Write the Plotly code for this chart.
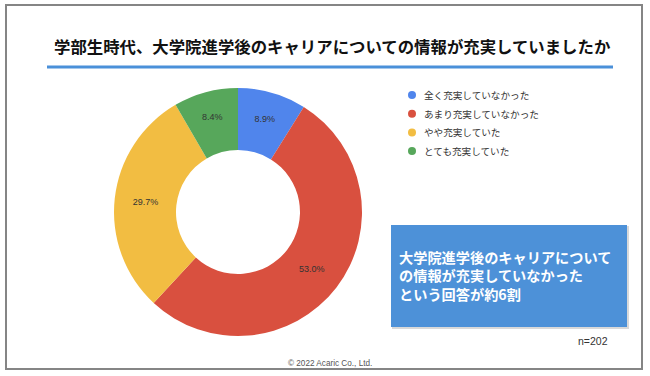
import plotly.graph_objects as go

categories = ["全く充実していなかった", "あまり充実していなかった", "やや充実していた", "とても充実していた"]
values = [8.9, 53.0, 29.7, 8.4]
colors = ["#5085ec", "#d9503f", "#f2bd42", "#57a75b"]

title_text = "学部生時代、大学院進学後のキャリアについての情報が充実していましたか"
box_text = "大学院進学後のキャリアについて<br>の情報が充実していなかった<br>という回答が約6割"
n_text = "n=202"
copyright_text = "© 2022 Acaric Co., Ltd."

W, H = 650, 376
FONT = "Noto Sans CJK JP"


def px(x):
    return x / W


def py(y):
    return 1 - y / H


fig = go.Figure()

fig.add_trace(go.Pie(
    labels=categories,
    values=values,
    marker=dict(colors=colors, line=dict(width=0)),
    hole=0.5,
    sort=False,
    direction="clockwise",
    rotation=0,
    texttemplate="%{value:.1f}%",
    textposition="inside",
    insidetextorientation="horizontal",
    textfont=dict(family="Liberation Sans, Arial", size=9, color="#333333"),
    showlegend=False,
    hoverinfo="label+percent",
    domain=dict(x=[px(238 - 124), px(238 + 124)], y=[py(336), py(88)]),
))

shapes = [
    # outer frame
    dict(type="rect", xref="paper", yref="paper", x0=px(6), x1=px(642), y0=py(369), y1=py(5),
         line=dict(color="#858585", width=2), fillcolor="rgba(0,0,0,0)"),
    # title underline
    dict(type="line", xref="paper", yref="paper", x0=px(47), x1=px(613), y0=py(67), y1=py(67),
         line=dict(color="#4a90d9", width=3)),
    # box shadow
    dict(type="rect", xref="paper", yref="paper", x0=px(392), x1=px(629), y0=py(329), y1=py(226),
         line=dict(width=0), fillcolor="rgba(0,0,0,0.15)"),
    # highlight box
    dict(type="rect", xref="paper", yref="paper", x0=px(391), x1=px(627), y0=py(327), y1=py(225),
         line=dict(width=0), fillcolor="#4d91d8"),
]

annotations = [
    dict(text="<b>" + title_text + "</b>", x=px(332.5), y=py(46), xref="paper", yref="paper",
         showarrow=False, xanchor="center", yanchor="middle",
         font=dict(family=FONT, size=16.4, color="#111111")),
    dict(text="<b>" + box_text + "</b>", x=px(397), y=py(275), xref="paper", yref="paper",
         showarrow=False, xanchor="left", yanchor="middle", align="left",
         font=dict(family=FONT, size=14.2, color="#ffffff")),
    dict(text=n_text, x=px(593), y=py(341), xref="paper", yref="paper",
         showarrow=False, xanchor="center", yanchor="middle",
         font=dict(family="Liberation Sans, Arial", size=10.5, color="#333333")),
    dict(text=copyright_text, x=px(330), y=py(363), xref="paper", yref="paper",
         showarrow=False, xanchor="center", yanchor="middle",
         font=dict(family="Liberation Sans, Arial", size=8.2, color="#555555")),
]

# custom legend with circular dots
LEG_X, LEG_Y0, LEG_DY = 412, 95, 18.7
for i, (cat, col) in enumerate(zip(categories, colors)):
    yc = LEG_Y0 + i * LEG_DY
    shapes.append(dict(type="circle", xref="paper", yref="paper",
                       x0=px(LEG_X - 4), x1=px(LEG_X + 4), y0=py(yc + 4), y1=py(yc - 4),
                       line=dict(width=0), fillcolor=col))
    annotations.append(dict(text=cat, x=px(LEG_X + 10), y=py(yc), xref="paper", yref="paper",
                            showarrow=False, xanchor="left", yanchor="middle",
                            font=dict(family=FONT, size=9.6, color="#333333")))

fig.update_layout(
    width=W, height=H,
    margin=dict(l=0, r=0, t=0, b=0),
    paper_bgcolor="white",
    plot_bgcolor="white",
    showlegend=False,
    shapes=shapes,
    annotations=annotations,
)

fig.write_html("out.html", config={"displayModeBar": False},
               post_script="document.body.style.margin='0';")
